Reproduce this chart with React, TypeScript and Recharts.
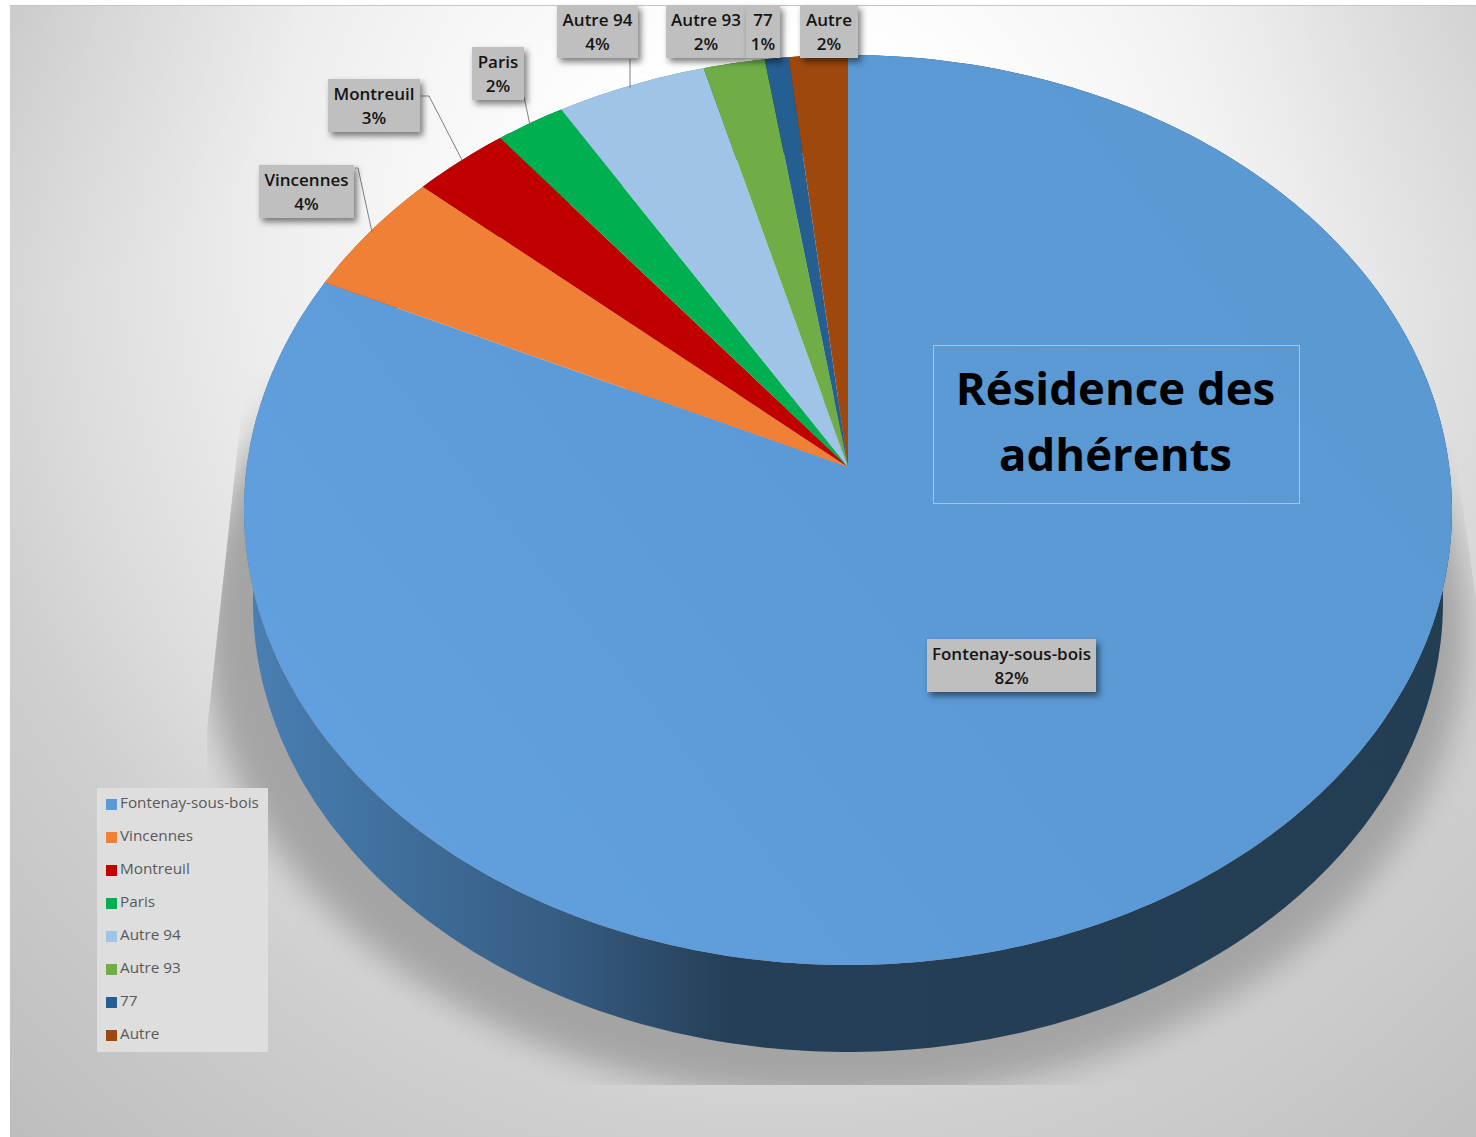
import React from 'react';
import { PieChart, Pie, Legend } from 'recharts';

const categories = ['Fontenay-sous-bois', 'Vincennes', 'Montreuil', 'Paris', 'Autre 94', 'Autre 93', '77', 'Autre'];
const shares = [82.0, 4.49, 2.85, 2.05, 4.4, 1.8, 0.7, 1.72];
const colors = ['url(#topGrad)', '#f08035', '#c00000', '#00b050', '#9fc4e8', '#70ad47', '#255e91', '#9e480e'];
const legendColors = ['#5b9bd5', '#f08035', '#c00000', '#00b050', '#9fc4e8', '#70ad47', '#255e91', '#9e480e'];
const wallColors = ['url(#wallGrad)', '#8a4a1c', '#700000', '#006a30', '#5f7f9f', '#446a2b', '#163a5a', '#5e2a08'];

const tableTop = categories.map((name, i) => ({ name, value: shares[i], fill: colors[i] }));
const tableWall = categories.map((name, i) => ({ name, value: shares[i], fill: wallColors[i] }));

const FONT = '"Open Sans", sans-serif';

// label box layout, one per slice: x, y, width, height, and a leader line
const labelLayout = [
  { x: 927, y: 639, w: 169, h: 53, line: '' },
  { x: 259, y: 165, w: 95, h: 53, line: 'M355 168 L358 168 L372 232' },
  { x: 328, y: 79, w: 92, h: 53, line: 'M421 96 L429 96 L462 160' },
  { x: 472, y: 47, w: 52, h: 53, line: 'M524 97 L530 125' },
  { x: 557, y: 5, w: 81, h: 53, line: 'M630 59 L630 88' },
  { x: 666, y: 5, w: 80, h: 53, line: '' },
  { x: 746, y: 5, w: 34, h: 53, line: '' },
  { x: 800, y: 5, w: 58, h: 53, line: '' },
];

// top face is a circle seen in perspective, the apex sits above the ellipse centre
const PERSP = -0.0945;
const Y_SCALE = 406.8;
const RAD = Math.PI / 180;

function topPoint(cx: number, cy: number, r: number, deg: number) {
  const x = Math.cos(deg * RAD);
  const y = -Math.sin(deg * RAD);
  const d = 1 + PERSP * y;
  return [cx + (r * x) / d, (cy + Y_SCALE * y) / d];
}

// bottom rim of the wall
function lowPoint(p: number[]) {
  return [848 + ((p[0] - 848) * 595) / 604, 602 + ((p[1] - 510) * 450) / 455];
}

function arcPoints(cx: number, cy: number, r: number, a0: number, a1: number) {
  const n = Math.max(2, Math.ceil(Math.abs(a1 - a0)));
  const pts = [];
  for (let i = 0; i <= n; i++) pts.push(topPoint(cx, cy, r, a0 + ((a1 - a0) * i) / n));
  return pts;
}

const toPath = (pts: number[][]) => pts.map((p, i) => `${i ? 'L' : 'M'}${p[0].toFixed(1)} ${p[1].toFixed(1)}`).join(' ') + ' Z';

function TopSlice(props: any) {
  const { cx, cy, outerRadius, startAngle, endAngle, fill } = props;
  const pts = [[cx, cy], ...arcPoints(cx, cy, outerRadius, startAngle, endAngle)];
  return <path d={toPath(pts)} fill={fill} stroke="none" />;
}

function WallSlice(props: any) {
  const { cx, cy, outerRadius, startAngle, endAngle, fill } = props;
  const top = arcPoints(cx, cy, outerRadius, startAngle, endAngle);
  const low = top.map(lowPoint).reverse();
  return <path d={toPath([...top, ...low])} fill={fill} stroke="none" />;
}

function SliceLabel(props: any) {
  const { index, percent, name } = props;
  const b = labelLayout[index];
  const mid = b.x + b.w / 2;
  return (
    <g>
      {b.line && <path d={b.line} fill="none" stroke="#7f7f7f" strokeWidth={1} />}
      <rect x={b.x} y={b.y} width={b.w} height={b.h} fill="#bfbfbf" style={{ filter: 'drop-shadow(3px 4px 3px rgba(0,0,0,0.5))' }} />
      <text x={mid} y={b.y + 21} textAnchor="middle" fontFamily={FONT} fontSize={17} fontWeight={600} fill="#141414">{name}</text>
      <text x={mid} y={b.y + 45} textAnchor="middle" fontFamily={FONT} fontSize={17} fontWeight={600} fill="#141414">{`${Math.round(percent * 100)}%`}</text>
    </g>
  );
}

function LegendBox({ payload }: any) {
  const items = (payload || []).filter((entry: any) => entry.type !== 'none');
  return (
    <div style={{ width: 171, height: 264, background: '#dedede', position: 'relative', fontFamily: FONT, fontSize: 15.3, color: '#595959' }}>
      {items.map((entry: any, i: number) => (
        <div key={entry.value} style={{ position: 'absolute', left: 9, top: 3 + i * 33, height: 22, display: 'flex', alignItems: 'center', whiteSpace: 'nowrap' }}>
          <span style={{ width: 11, height: 11, marginRight: 3, marginTop: 4, background: legendColors[i], display: 'inline-block' }} />
          {entry.value}
        </div>
      ))}
    </div>
  );
}

export default function App() {
  return (
    <div style={{ position: 'absolute', left: 0, top: 0, width: 1476, height: 1137, background: '#fff', overflow: 'hidden' }}>
      <div
        style={{
          position: 'absolute', left: 10, top: 5, width: 1466, height: 1132, borderTop: '1px solid #c4c4c4', boxSizing: 'border-box',
          background: [
            'radial-gradient(circle 300px at 0px 0px, rgba(0,0,0,0.035), rgba(0,0,0,0))',
            'radial-gradient(circle 300px at 1466px 0px, rgba(0,0,0,0.035), rgba(0,0,0,0))',
            'radial-gradient(ellipse 950px 1000px at 770px 245px, #ffffff 21%, #f6f6f6 40%, #ededed 55%, #dcdcdc 75%, #d6d6d6 81%, #cfcfcf 88%, #c0c0c0 115%, #bdbdbd 120%)',
          ].join(', '),
        }}
      />
      {/* soft shadow the pie throws on the backdrop */}
      <svg width={1476} height={1137} style={{ position: 'absolute', left: 0, top: 0 }}>
        <defs>
          <filter id="soft" x="-10%" y="-10%" width="120%" height="120%">
            <feGaussianBlur stdDeviation="16" />
          </filter>
          <clipPath id="shadowClip">
            <polygon points="246,370 207,730 207,1085 1476,1085 1476,600 1452,430" />
          </clipPath>
        </defs>
        <g clipPath="url(#shadowClip)">
          <ellipse cx={835} cy={630} rx={632} ry={470} fill="#a4a4a4" filter="url(#soft)" />
        </g>
      </svg>
      <div style={{ position: 'absolute', left: 0, top: 0 }}>
        <PieChart width={1476} height={1137} margin={{ top: 0, right: 0, bottom: 0, left: 0 }}>
          <defs>
            <linearGradient id="topGrad" gradientUnits="userSpaceOnUse" x1={420} y1={900} x2={1250} y2={250}>
              <stop offset="0%" stopColor="#619fde" />
              <stop offset="55%" stopColor="#5b9ad6" />
              <stop offset="100%" stopColor="#5a99d2" />
            </linearGradient>
            <linearGradient id="wallGrad" gradientUnits="userSpaceOnUse" x1={250} y1={0} x2={1450} y2={0}>
              <stop offset="0%" stopColor="#4a7fb3" />
              <stop offset="12%" stopColor="#3f6f9c" />
              <stop offset="26%" stopColor="#365c82" />
              <stop offset="40%" stopColor="#253f57" />
              <stop offset="100%" stopColor="#233d53" />
            </linearGradient>
          </defs>
          <Pie
            data={tableWall}
            dataKey="value"
            nameKey="name"
            cx={848}
            cy={467}
            outerRadius={601.3}
            startAngle={90}
            endAngle={-270}
            shape={WallSlice}
            legendType="none"
            isAnimationActive={false}
          />
          <Pie
            data={tableTop}
            dataKey="value"
            nameKey="name"
            cx={848}
            cy={467}
            outerRadius={601.3}
            startAngle={90}
            endAngle={-270}
            shape={TopSlice}
            label={SliceLabel}
            labelLine={false}
            isAnimationActive={false}
          />
          <Legend
            content={<LegendBox />}
            layout="vertical"
            itemSorter={null}
            wrapperStyle={{ position: 'absolute', left: 97, top: 788, width: 171, height: 264, bottom: 'auto' }}
          />
        </PieChart>
      </div>
      <div
        style={{
          position: 'absolute', left: 933, top: 345, width: 367, height: 159, boxSizing: 'border-box', border: '1px solid #b4c2d0',
          fontFamily: FONT, fontWeight: 700, fontSize: 45.5, lineHeight: '66px', textAlign: 'center', color: '#000', paddingTop: 8, paddingRight: 2,
        }}
      >
        Résidence des
        <br />
        adhérents
      </div>
    </div>
  );
}
